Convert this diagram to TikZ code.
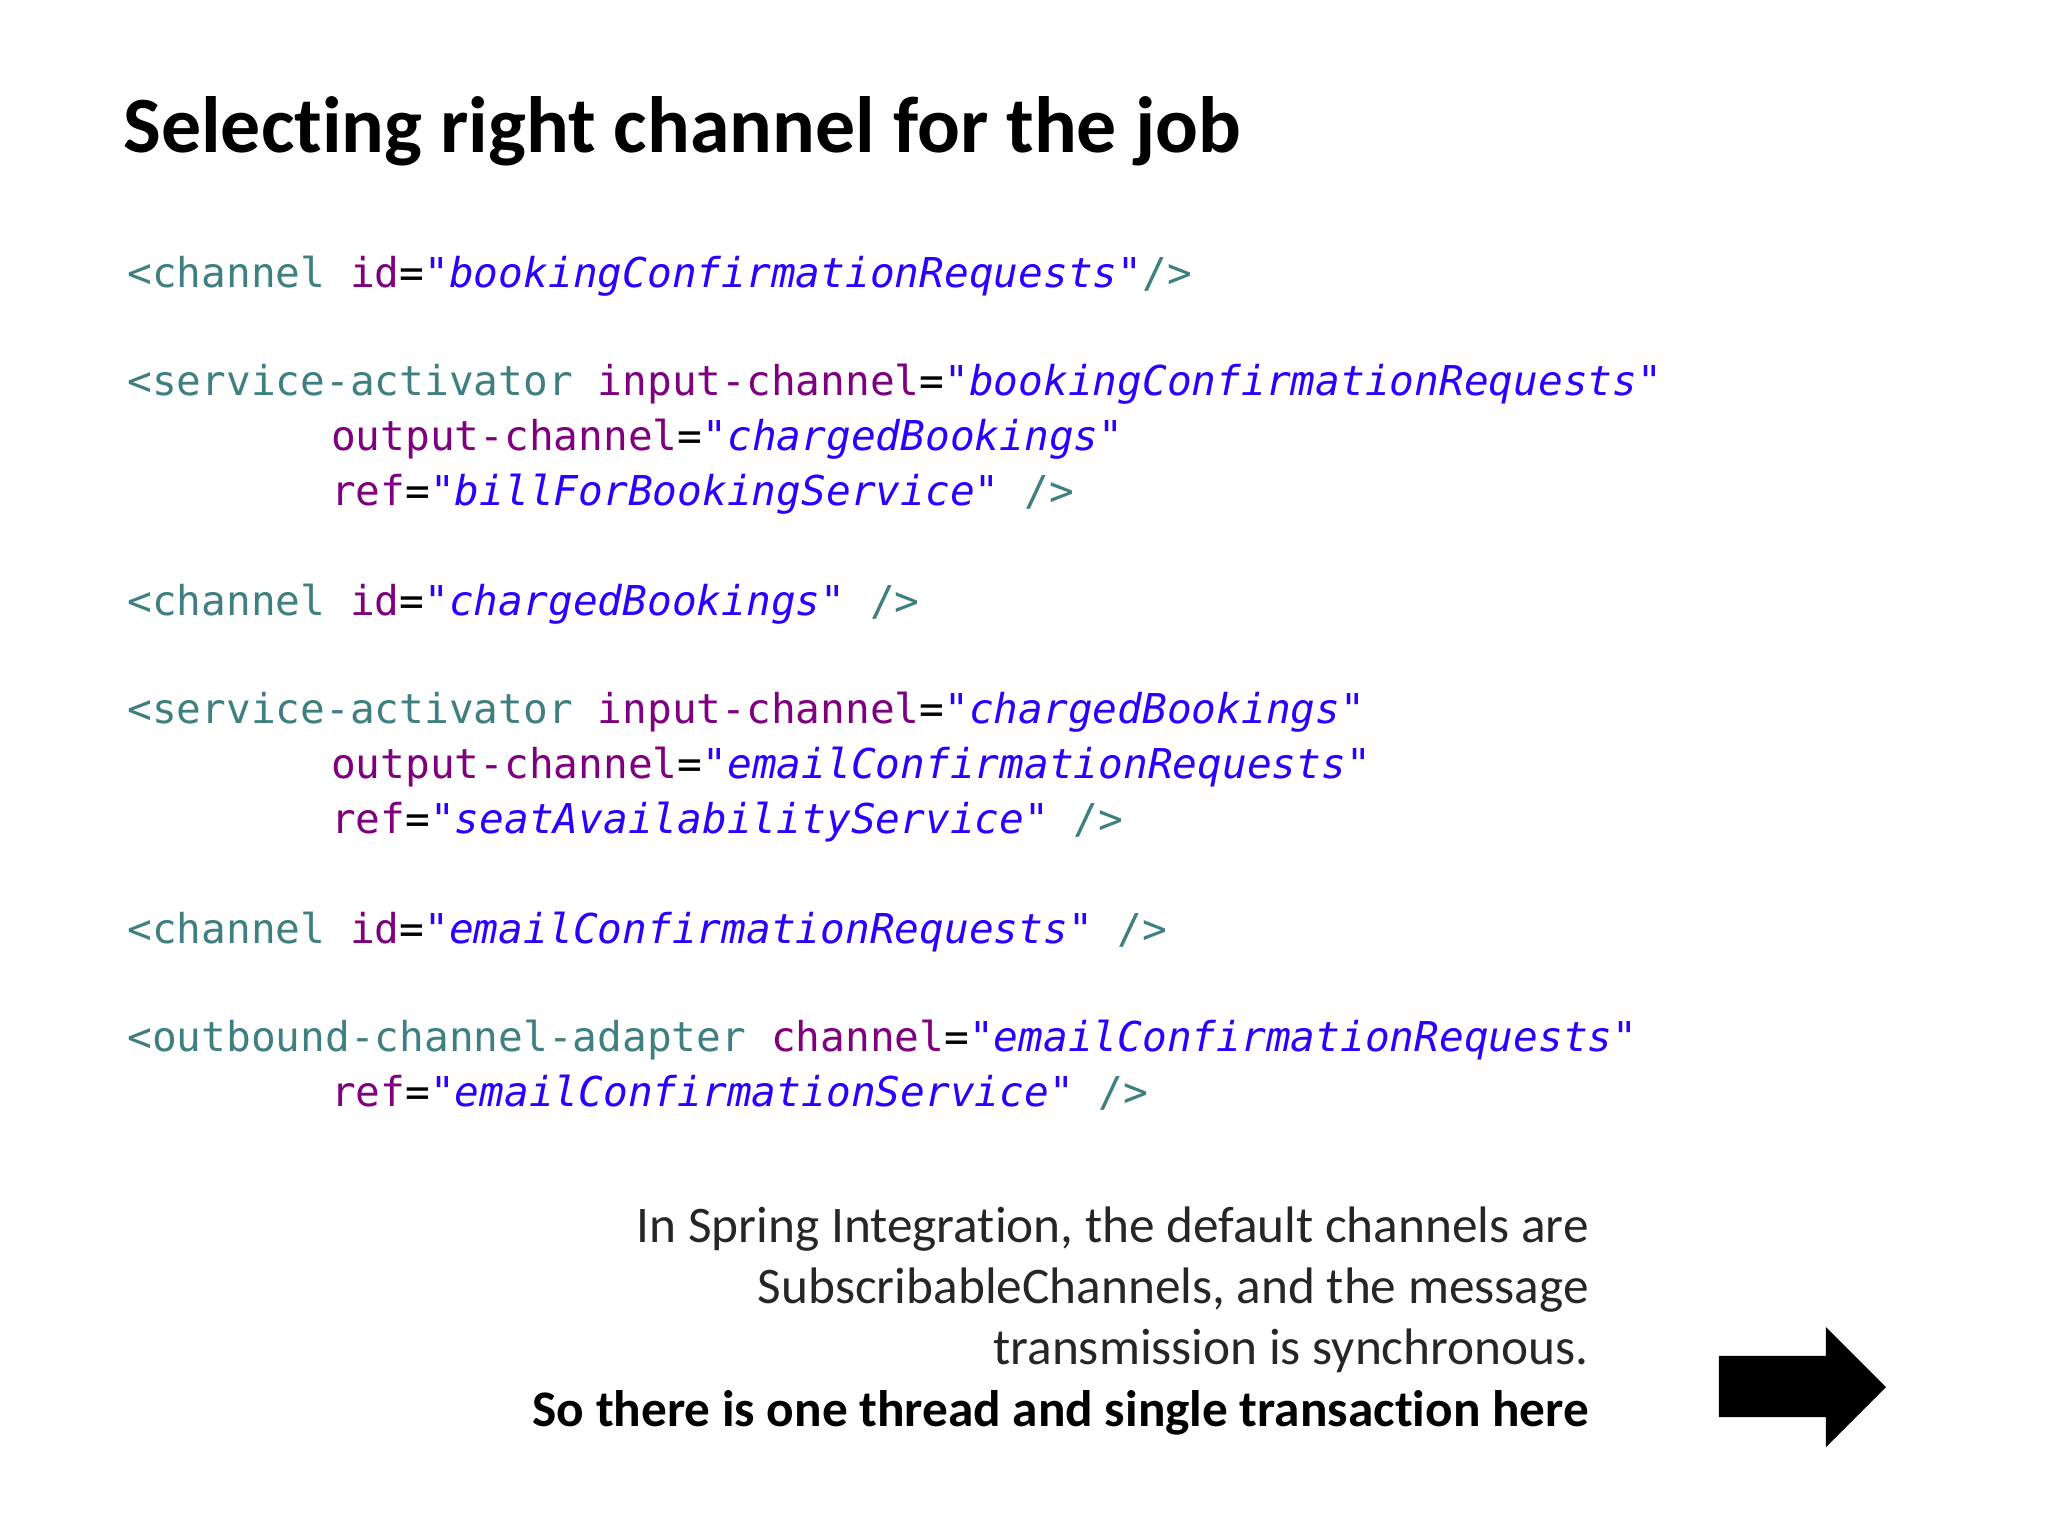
\documentclass[tikz,border=0pt]{standalone}
\usepackage{fontspec}
\usepackage{xcolor}
\setmainfont{Carlito}[Ligatures={NoCommon}]
\newfontfamily\codef{DejaVu Sans Mono}
\definecolor{tg}{HTML}{3F7F7F}
\definecolor{at}{HTML}{7F007F}
\definecolor{vl}{HTML}{2A00FF}
\newcommand{\T}[1]{\textcolor{tg}{#1}}
\newcommand{\A}[1]{\textcolor{at}{#1}}
\newcommand{\V}[1]{\textcolor{vl}{\itshape #1}}
\begin{document}
\begin{tikzpicture}[x=0.013061cm,y=-0.013061cm,
  code/.style={anchor=base west,inner sep=0pt,font=\codef\fontsize{11.7}{14}\selectfont},
  note/.style={anchor=base east,inner sep=0pt,font=\fontsize{14.6}{17}\selectfont,text=black!85}]
\useasboundingbox (0,0) rectangle (1568,1176);
\node[anchor=base west,inner sep=0pt,font=\bfseries\fontsize{22.7}{26}\selectfont] (title) at (94,117) {Selecting right channel for the job};
\node[code] (l1) at (97,220) {\T{<channel} \A{id}=\V{"bookingConfirmationRequests"}\T{/>}};
\node[code] (l2) at (97,303) {\T{<service-activator} \A{input-channel}=\V{"bookingConfirmationRequests"}};
\node[code] (l3) at (253,345) {\A{output-channel}=\V{"chargedBookings"}};
\node[code] (l4) at (253,387) {\A{ref}=\V{"billForBookingService"} \T{/>}};
\node[code] (l5) at (97,471) {\T{<channel} \A{id}=\V{"chargedBookings"} \T{/>}};
\node[code] (l6) at (97,554) {\T{<service-activator} \A{input-channel}=\V{"chargedBookings"}};
\node[code] (l7) at (253,596) {\A{output-channel}=\V{"emailConfirmationRequests"}};
\node[code] (l8) at (253,638) {\A{ref}=\V{"seatAvailabilityService"} \T{/>}};
\node[code] (l9) at (97,722) {\T{<channel} \A{id}=\V{"emailConfirmationRequests"} \T{/>}};
\node[code] (l10) at (97,805) {\T{<outbound-channel-adapter} \A{channel}=\V{"emailConfirmationRequests"}};
\node[code] (l11) at (253,847) {\A{ref}=\V{"emailConfirmationService"} \T{/>}};
\node[note] (n1) at (1217,951) {In Spring Integration, the default channels are};
\node[note] (n2) at (1217,998) {SubscribableChannels, and the message};
\node[note] (n3) at (1217,1045) {transmission is synchronous.};
\node[note,font=\bfseries\fontsize{14.6}{17}\selectfont,text=black] (n4) at (1217,1092) {So there is one thread and single transaction here};
\fill[black] (1316,1038) -- (1398,1038) -- (1398,1016) -- (1444,1062) -- (1398,1108) -- (1398,1085) -- (1316,1085) -- cycle;
\end{tikzpicture}
\end{document}
